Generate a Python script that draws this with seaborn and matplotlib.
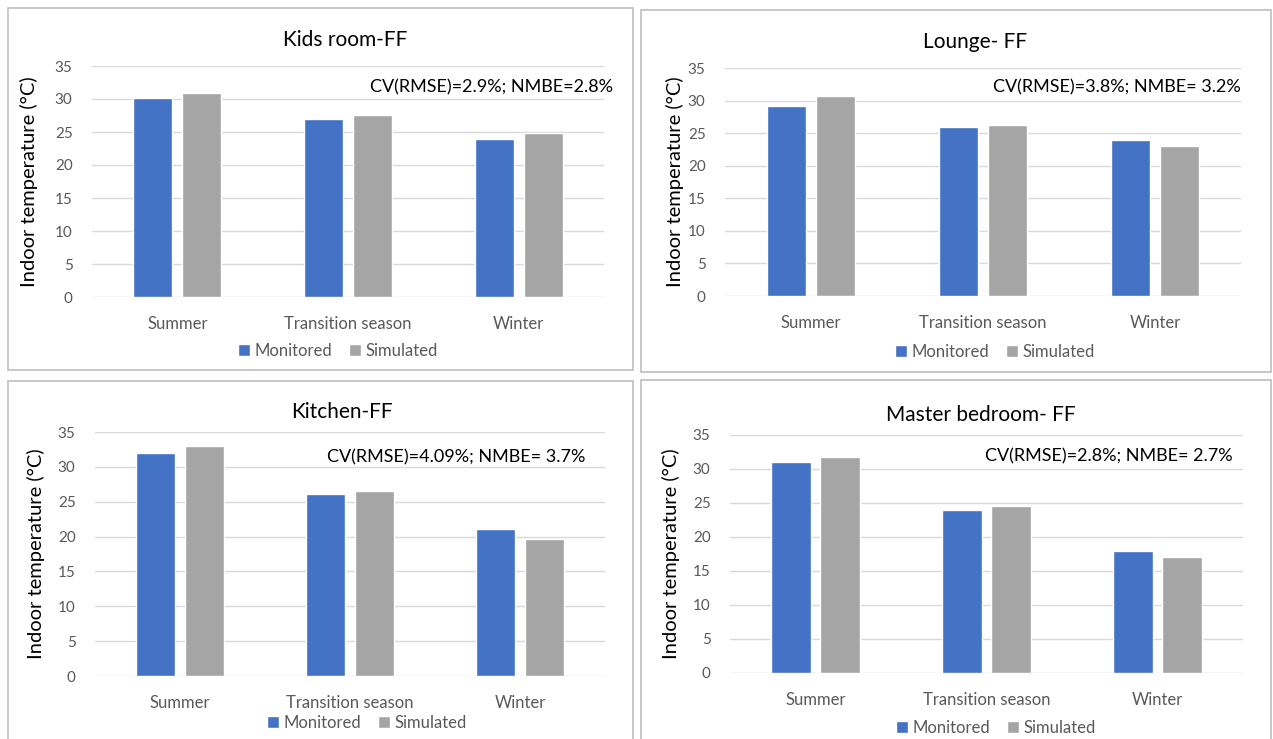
import matplotlib
matplotlib.use("Agg")
import matplotlib.pyplot as plt
import seaborn as sns
import pandas as pd
from matplotlib.patches import Rectangle

seasons = ["Summer", "Transition season", "Winter"]
series = ["Monitored", "Simulated"]

titles = ["Kids room-FF", "Lounge- FF", "Kitchen-FF", "Master bedroom- FF"]
stats = ["CV(RMSE)=2.9%; NMBE=2.8%", "CV(RMSE)=3.8%; NMBE= 3.2%",
         "CV(RMSE)=4.09%; NMBE= 3.7%", "CV(RMSE)=2.8%; NMBE= 2.7%"]

kids_monitored = [30.1, 27.0, 24.0]
kids_simulated = [30.9, 27.6, 24.9]
lounge_monitored = [29.2, 25.9, 24.0]
lounge_simulated = [30.7, 26.2, 23.0]
kitchen_monitored = [32.0, 26.1, 21.1]
kitchen_simulated = [32.95, 26.6, 19.6]
master_monitored = [31.1, 23.9, 18.0]
master_simulated = [31.8, 24.5, 17.0]

panel_values = [(kids_monitored, kids_simulated),
                (lounge_monitored, lounge_simulated),
                (kitchen_monitored, kitchen_simulated),
                (master_monitored, master_simulated)]

yticks = [0, 5, 10, 15, 20, 25, 30, 35]

BLUE = "#4472C4"
GRAY = "#A5A5A5"

W, H = 1273, 739
sns.set_theme(style="white")
plt.rcParams['font.family'] = ['Lato', 'DejaVu Sans']

fig = plt.figure(figsize=(W / 100, H / 100), dpi=100)
fig.patch.set_facecolor("white")

# layout in pixels
frames = [(8, 8, 633, 370), (641, 10, 1271, 372), (8, 381, 633, 745), (641, 380, 1271, 745)]
axes_px = [(92, 604, 66, 297), (725, 1241, 68, 296), (95, 605, 432, 676), (730, 1243, 435, 673)]
title_px = [(345, 40), (975, 42), (342, 412), (981, 415)]
stat_px = [(613, 87), (1241, 87), (585, 457), (1233, 456)]
cat_y = [320, 319, 699, 696]
leg_px = [(338, 351), (995, 352), (367, 723), (996, 728)]
ylab_x = [38, 684, 45, 680]

def fx(x):
    return x / W

def fy(y):
    return 1 - y / H

for i in range(4):
    l, t, r, b = frames[i]
    fig.patches.append(Rectangle((fx(l), fy(b)), fx(r) - fx(l), fy(t) - fy(b),
                                 transform=fig.transFigure, fill=False,
                                 edgecolor="#BFBFBF", linewidth=1.2, zorder=0))
    x0, x1, y35, y0 = axes_px[i]
    ax = fig.add_axes([fx(x0), fy(y0), fx(x1) - fx(x0), fy(y35) - fy(y0)])
    mon, sim = panel_values[i]
    df = pd.DataFrame({
        "Season": seasons * 2,
        "Series": [series[0]] * 3 + [series[1]] * 3,
        "Value": list(mon) + list(sim),
    })
    sns.barplot(data=df, x="Season", y="Value", hue="Series", order=seasons,
                hue_order=series, palette=[BLUE, GRAY], saturation=1,
                width=0.573, gap=0.2, ax=ax, legend=False, zorder=3)
    ax.set_xlim(-0.5, 2.5)
    ax.set_ylim(0, 35)
    ax.set_yticks(yticks)
    ax.set_yticklabels([str(v) for v in yticks], color="#595959", fontsize=11)
    ax.tick_params(axis="both", length=0)
    ax.tick_params(axis="y", pad=14)
    ax.set_xticklabels(seasons, color="#595959", fontsize=12)
    ax.tick_params(axis="x", pad=(cat_y[i] - y0) - 9)
    ax.set_xlabel("")
    ax.set_ylabel("Indoor temperature (°C)", fontsize=14.5, color="black")
    ax.yaxis.set_label_coords((ylab_x[i] - x0) / (x1 - x0), 0.5)
    for s in ax.spines.values():
        s.set_visible(False)
    ax.grid(axis="y", color="#D9D9D9", linewidth=1, zorder=0)
    ax.set_axisbelow(True)
    ax.set_facecolor("none")
    tx, ty = title_px[i]
    fig.text(fx(tx), fy(ty), titles[i], ha="center", va="center", fontsize=15, color="black")
    sx, sy = stat_px[i]
    fig.text(fx(sx), fy(sy), stats[i], ha="right", va="center", fontsize=13, color="black")
    lx, ly = leg_px[i]
    handles = [Rectangle((0, 0), 1, 1, facecolor=BLUE), Rectangle((0, 0), 1, 1, facecolor=GRAY)]
    leg = fig.legend(handles, series, loc="center", bbox_to_anchor=(fx(lx), fy(ly)),
                     ncol=2, frameon=False, fontsize=12, handlelength=0.7,
                     handleheight=0.7, handletextpad=0.3, columnspacing=1.0)
    for txt in leg.get_texts():
        txt.set_color("#595959")

fig.savefig("out.png", dpi=100)
